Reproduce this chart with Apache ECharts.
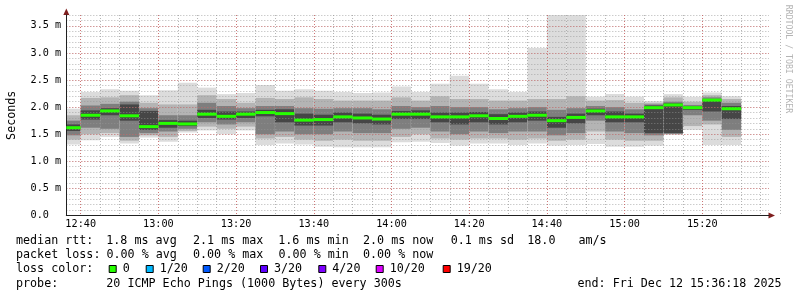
<!DOCTYPE html>
<html><head><meta charset="utf-8">
<script src="https://cdn.jsdelivr.net/npm/echarts@6/dist/echarts.min.js"></script>
<style>html,body{margin:0;padding:0;background:#fff}#c{width:797px;height:297px}</style>
</head><body><div id="c"></div>
<script>
// ---- data (ms) ----
const slotEnds = ['12:40','12:45','12:50','12:55','13:00','13:05','13:10','13:15','13:20','13:25','13:30','13:35','13:40','13:45','13:50','13:55','14:00','14:05','14:10','14:15','14:20','14:25','14:30','14:35','14:40','14:45','14:50','14:55','15:00','15:05','15:10','15:15','15:20','15:25','15:30'];
const maxV   = [1.97,2.28,2.33,2.30,2.22,2.31,2.45,2.36,2.24,2.26,2.41,2.30,2.33,2.30,2.28,2.26,2.27,2.38,2.28,2.43,2.58,2.43,2.33,2.28,3.09,3.70,3.70,2.19,2.24,2.19,2.11,2.24,2.19,2.27,2.20];
const hi2    = [1.85,2.17,2.18,2.22,2.08,2.05,2.05,2.22,2.15,2.08,2.17,2.15,2.18,2.15,2.12,2.12,2.12,2.18,2.12,2.20,2.15,2.15,2.12,2.12,2.15,2.15,2.20,2.12,2.13,2.08,2.08,2.18,2.10,2.22,2.15];
const hi3    = [1.75,2.03,2.06,2.10,1.98,1.85,1.85,2.08,2.02,1.98,2.02,2.02,1.98,1.97,1.98,1.98,1.96,2.02,2.00,2.02,2.00,2.00,1.96,1.98,2.00,1.95,1.98,2.02,2.00,1.96,2.05,2.10,2.04,2.18,2.08];
const hi4    = [1.68,1.94,1.98,2.05,1.93,1.76,1.75,1.95,1.92,1.92,1.95,1.96,1.88,1.86,1.90,1.88,1.86,1.93,1.94,1.90,1.90,1.91,1.87,1.90,1.92,1.82,1.88,1.97,1.92,1.88,2.03,2.07,2.01,2.15,2.02];
const median = [1.62,1.85,1.93,1.84,1.64,1.70,1.69,1.87,1.83,1.87,1.90,1.88,1.76,1.77,1.82,1.80,1.78,1.87,1.87,1.82,1.82,1.84,1.79,1.83,1.85,1.75,1.81,1.93,1.82,1.82,1.99,2.04,1.99,2.13,1.97];
const lo4    = [1.56,1.77,1.85,1.75,1.58,1.62,1.65,1.80,1.77,1.80,1.83,1.72,1.66,1.66,1.72,1.70,1.68,1.78,1.78,1.72,1.68,1.72,1.68,1.72,1.75,1.62,1.70,1.85,1.72,1.72,1.52,1.52,1.95,1.92,1.78];
const lo3    = [1.48,1.62,1.60,1.45,1.52,1.55,1.60,1.72,1.68,1.72,1.50,1.55,1.50,1.50,1.55,1.52,1.52,1.60,1.62,1.55,1.50,1.55,1.52,1.55,1.55,1.48,1.52,1.75,1.55,1.52,1.48,1.51,1.85,1.75,1.58];
const lo2    = [1.40,1.50,1.52,1.38,1.48,1.45,1.56,1.64,1.60,1.64,1.42,1.45,1.40,1.38,1.40,1.38,1.38,1.45,1.50,1.42,1.40,1.42,1.42,1.40,1.42,1.38,1.40,1.55,1.40,1.38,1.38,1.50,1.65,1.68,1.45];
const minV   = [1.31,1.39,1.45,1.33,1.44,1.36,1.53,1.57,1.50,1.57,1.30,1.33,1.31,1.27,1.26,1.26,1.26,1.35,1.36,1.34,1.29,1.33,1.33,1.30,1.33,1.29,1.30,1.32,1.27,1.27,1.29,1.49,1.58,1.30,1.30];
const graphStart = '12:36:18';
const graphSpanMin = 180;
const stepMin = 5;
const yMax = 3.7;
const lossLabels = ['0','1/20','2/20','3/20','4/20','10/20','19/20'];
const lossColors = ['#26ff00','#00b8ff','#0059ff','#5e00ff','#7e00ff','#dd00ff','#ff0000'];
const legendLine1 = [['median rtt:',16],['1.8 ms avg',106.3],['2.1 ms max',193],['1.6 ms min',278.3],['2.0 ms now',363],['0.1 ms sd',450.7],['18.0',527.3],['am/s',578.5]];
const legendLine2 = [['packet loss:',16],['0.00 % avg',106.5],['0.00 % max',193],['0.00 % min',278.5],['0.00 % now',363]];
const legendLine4 = [['probe:',16],['20 ICMP Echo Pings (1000 Bytes) every 300s',106.3],['end: Fri Dec 12 15:36:18 2025',577.5]];

// ---- helpers ----
function toMin(s){const p=s.split(':').map(Number);return p[0]*60+p[1]+(p[2]||0)/60;}
function fmtHM(v){const h=Math.floor(v/60),m=Math.round(v%60);return String(h).padStart(2,'0')+':'+String(m).padStart(2,'0');}
const T0 = toMin(graphStart), T1 = T0 + graphSpanMin;
const K = 3.885, X760 = 80.7;           // px per minute, pixel of 12:40
const xPix = t => X760 + (t-760)*K;
const TOP = 15, BOT = 215.5, H = BOT-TOP;
const MONO = '"DejaVu Sans Mono", monospace';
const minorCol = 'rgba(150,150,150,0.7)', majorCol = 'rgba(222,79,79,0.6)';
const bandColors = ['#dcdcdc','#b4b4b4','#7e7e7e','#464646'];

const smokeData = slotEnds.map((t,i)=>{const e=toMin(t);return [Math.max(e-stepMin,T0),e,maxV[i],hi2[i],hi3[i],hi4[i],lo4[i],lo3[i],lo2[i],minV[i]];});
const medData = slotEnds.map((t,i)=>{const e=toMin(t);return [Math.max(e-stepMin,T0),e,median[i]];});

const mStart = Math.floor(T0/stepMin)*stepMin, mEnd = Math.ceil(T1/stepMin)*stepMin+stepMin;
const cStart = Math.ceil(T0/20)*20, cEnd = Math.ceil(T1/20)*20;

const chart = echarts.init(document.getElementById('c'));
const graphic = [];
function addText(txt,x,y,opt){graphic.push(Object.assign({type:'text',x:x,y:y,style:{text:txt,fontFamily:MONO,fontSize:11.7,fill:'#000',verticalAlign:'middle',align:'left'}},opt||{}));}
legendLine1.forEach(([t,x])=>addText(t,x,240.7));
legendLine2.forEach(([t,x])=>addText(t,x,255));
addText('loss color:',16,269.3);
const sqX=[108.7,145.7,202.7,260,318.3,375.7,442.7];
lossLabels.forEach((l,i)=>{
  graphic.push({type:'rect',shape:{x:sqX[i]+0.5,y:265.5,width:7,height:7},style:{fill:lossColors[i],stroke:'#000',lineWidth:1}});
  addText(l,sqX[i]+14,269.3);
});
legendLine4.forEach(([t,x])=>addText(t,x,283.5));
graphic.push({type:'text',x:788,y:59,rotation:-Math.PI/2,style:{text:'RRDTOOL / TOBI OETIKER',fontFamily:MONO,fontSize:8.2,fill:'#b4b4b4',align:'center',verticalAlign:'middle'}});
// axis arrows
graphic.push({type:'polygon',shape:{points:[[xPix(T0),8.5],[xPix(T0)-3,15],[xPix(T0)+3,15]]},style:{fill:'#7f1f1f'}});
graphic.push({type:'polygon',shape:{points:[[775,BOT],[768.5,BOT-3],[768.5,BOT+3]]},style:{fill:'#7f1f1f'}});

const gridBase = {top:TOP,height:H,containLabel:false,outerBoundsMode:'none'};
const option = {
  animation:false,
  backgroundColor:'#ffffff',
  grid:[
    Object.assign({left:xPix(T0),width:769-xPix(T0)},gridBase),
    Object.assign({left:xPix(mStart),width:(mEnd-mStart)*K},gridBase),
    Object.assign({left:xPix(cStart),width:(cEnd-cStart)*K},gridBase)
  ],
  xAxis:[
    {gridIndex:0,type:'value',position:'bottom',min:0,max:1,z:5,axisLine:{show:true,onZero:false,lineStyle:{color:'#202020',width:1}},axisTick:{show:false},axisLabel:{show:false},splitLine:{show:false}},
    {gridIndex:1,type:'value',position:'bottom',min:mStart,max:mEnd,interval:stepMin,z:5,axisLine:{show:false},axisTick:{show:false},axisLabel:{show:false},
      splitLine:{show:true,showMinLine:false,showMaxLine:false,lineStyle:{color:minorCol,type:[1,2],width:1}}},
    {gridIndex:2,type:'value',position:'bottom',min:cStart,max:cEnd,interval:20,z:6,axisLine:{show:false},axisTick:{show:false},
      axisLabel:{show:true,showMaxLabel:false,margin:4,fontFamily:MONO,fontSize:10.2,color:'#000',formatter:v=>(v>T1?'':fmtHM(v))},
      splitLine:{show:true,showMinLine:true,showMaxLine:false,lineStyle:{color:majorCol,type:[1,2],width:1}}}
  ],
  yAxis:[
    {gridIndex:0,type:'value',position:'left',min:0,max:yMax,interval:0.1,z:5,axisLine:{show:false},axisTick:{show:false},axisLabel:{show:false},
      splitLine:{show:true,lineStyle:{color:minorCol,type:[1,2],width:1}}},
    {gridIndex:0,type:'value',position:'left',offset:0,min:0,max:yMax,interval:0.5,z:6,
      axisLine:{show:true,onZero:false,lineStyle:{color:'#202020',width:1}},axisTick:{show:false},
      axisLabel:{show:true,showMaxLabel:false,align:'left',margin:xPix(T0)-30.5,fontFamily:MONO,fontSize:10.2,color:'#000',
        formatter:v=>{if(Math.abs(v*2-Math.round(v*2))>1e-6)return '';return v===0?'0.0':v.toFixed(1)+' m';}},
      splitLine:{show:true,showMinLine:false,showMaxLine:false,lineStyle:{color:majorCol,type:[1,2],width:1}},
      name:'Seconds',nameLocation:'middle',nameRotate:90,nameGap:48,nameTextStyle:{fontFamily:MONO,fontSize:11.7,color:'#000'}},
    {gridIndex:1,type:'value',position:'left',min:0,max:yMax,show:false},
    {gridIndex:2,type:'value',position:'left',min:0,max:yMax,show:false}
  ],
  series:[
    {type:'custom',xAxisIndex:1,yAxisIndex:2,z:1,silent:true,data:smokeData,
      renderItem:(params,api)=>{
        const x0=api.value(0),x1=api.value(1);
        const pairs=[[2,9],[3,8],[4,7],[5,6]];
        const children=pairs.map((p,k)=>{
          const a=api.coord([x0,api.value(p[0])]),b=api.coord([x1,api.value(p[1])]);
          return {type:'rect',shape:{x:a[0],y:a[1],width:b[0]-a[0],height:b[1]-a[1]},style:{fill:bandColors[k]}};
        });
        return {type:'group',children:children};
      }},
    {type:'custom',xAxisIndex:1,yAxisIndex:2,z:10,silent:true,data:medData,
      renderItem:(params,api)=>{
        const a=api.coord([api.value(0),api.value(2)]),b=api.coord([api.value(1),api.value(2)]);
        return {type:'rect',shape:{x:a[0],y:a[1]-1.5,width:b[0]-a[0],height:3},style:{fill:'#26ff00'}};
      }}
  ],
  graphic:graphic
};
chart.setOption(option);
</script></body></html>
